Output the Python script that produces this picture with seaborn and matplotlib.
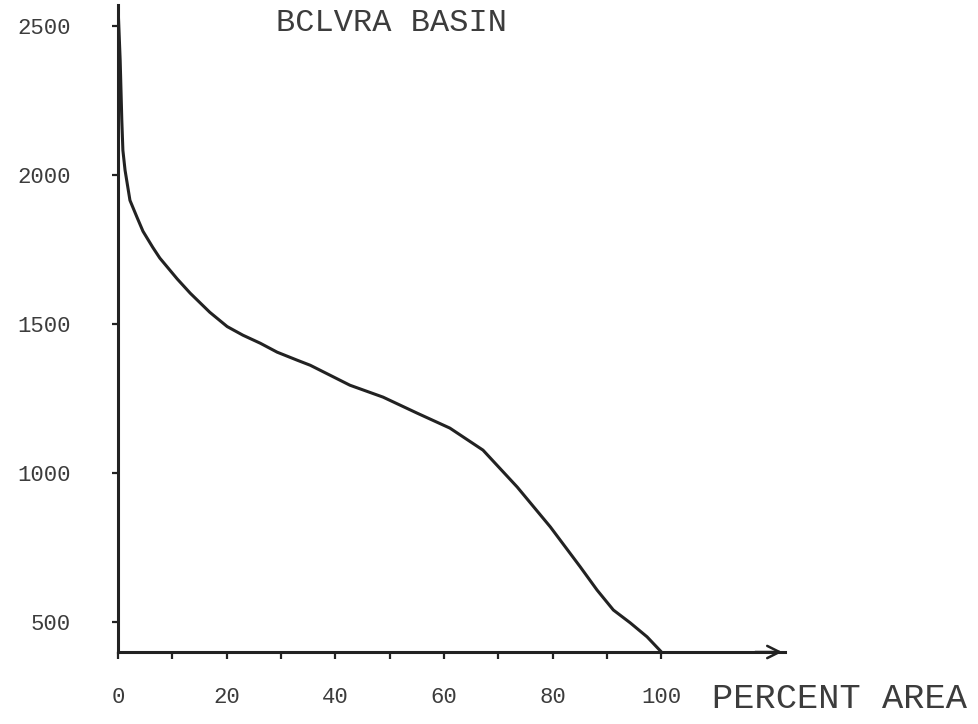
import numpy as np
import pandas as pd
import matplotlib
matplotlib.use("Agg")
import matplotlib.pyplot as plt
from matplotlib.transforms import offset_copy
import seaborn as sns

# ---- data ----
percent_area = [0.0, 0.4, 0.7, 0.9, 1.3, 2.2, 3.5, 4.6, 6.4, 7.7, 10.9, 13.3,
                16.9, 20.1, 23.0, 26.2, 29.3, 33.0, 35.4, 42.7, 48.8, 55.1,
                61.1, 67.2, 73.5, 79.6, 85.1, 88.2, 91.2, 94.3, 97.4, 100.0]
elevation = [2570, 2386, 2185, 2084, 2017, 1916, 1859, 1812, 1758, 1722, 1652, 1604,
             1540, 1492, 1463, 1436, 1406, 1379, 1362, 1295, 1255, 1201,
             1151, 1077, 953, 819, 685, 607, 540, 497, 450, 400]
x_ticks = [0, 10, 20, 30, 40, 50, 60, 70, 80, 90, 100]
x_tick_labels = ["0", "", "20", "", "40", "", "60", "", "80", "", "100"]
y_ticks = [500, 1000, 1500, 2000, 2500]
y_tick_labels = ["500", "1000", "1500", "2000", "2500"]
title_text = "BCLVRA BASIN"
x_label_text = "PERCENT AREA"

df = pd.DataFrame({"area": percent_area, "elev": elevation})

sns.set_theme(style="white")
plt.rcParams["font.family"] = ["Liberation Mono", "DejaVu Sans Mono"]

W, H = 979, 724
fig = plt.figure(figsize=(W / 100, H / 100), dpi=100)
ax = fig.add_axes([118 / W, 72 / H, 667 / W, 647 / H])

ink = "#222222"
txt = "#3c3c3c"

sns.lineplot(data=df, x="area", y="elev", ax=ax, color=ink, linewidth=2.2,
             estimator=None, sort=False)

X_MAX = 122.8
Y_MIN = 399
ax.set_xlim(0, X_MAX)
ax.set_ylim(Y_MIN, 2572)

for s in ["top", "right"]:
    ax.spines[s].set_visible(False)
for s in ["left", "bottom"]:
    ax.spines[s].set_color(ink)
    ax.spines[s].set_linewidth(2.2)
    ax.spines[s].set_linestyle((0, (7, 1)))

ax.set_xticks(x_ticks)
ax.set_xticklabels(x_tick_labels)
ax.set_yticks(y_ticks)
ax.set_yticklabels(y_tick_labels)
ax.tick_params(axis="x", bottom=True, direction="out", length=5, width=1.6,
               color=ink, pad=20, labelsize=16, labelcolor=txt)
ax.tick_params(axis="y", left=True, direction="out", length=4, width=1.6,
               color=ink, pad=30, labelsize=16, labelcolor=txt)
ax.set_xlabel("")
ax.set_ylabel("")
ax.grid(False)

# arrow head at end of x axis
ax.annotate("", xy=(X_MAX, Y_MIN), xytext=(X_MAX - 6, Y_MIN), xycoords="data",
            arrowprops=dict(arrowstyle="->", color=ink, lw=1.8,
                            mutation_scale=22),
            annotation_clip=False)

ax.text(109.4, Y_MIN, x_label_text, ha="left", va="top", fontsize=25.5,
        color=txt, clip_on=False,
        transform=offset_copy(ax.transData, fig=fig, x=0, y=-30, units="dots"))

fig.text(392 / W, 1 - 23 / H, title_text, ha="center", va="center",
         fontsize=23, color=txt)

fig.savefig("out.png", dpi=100, facecolor="white")
